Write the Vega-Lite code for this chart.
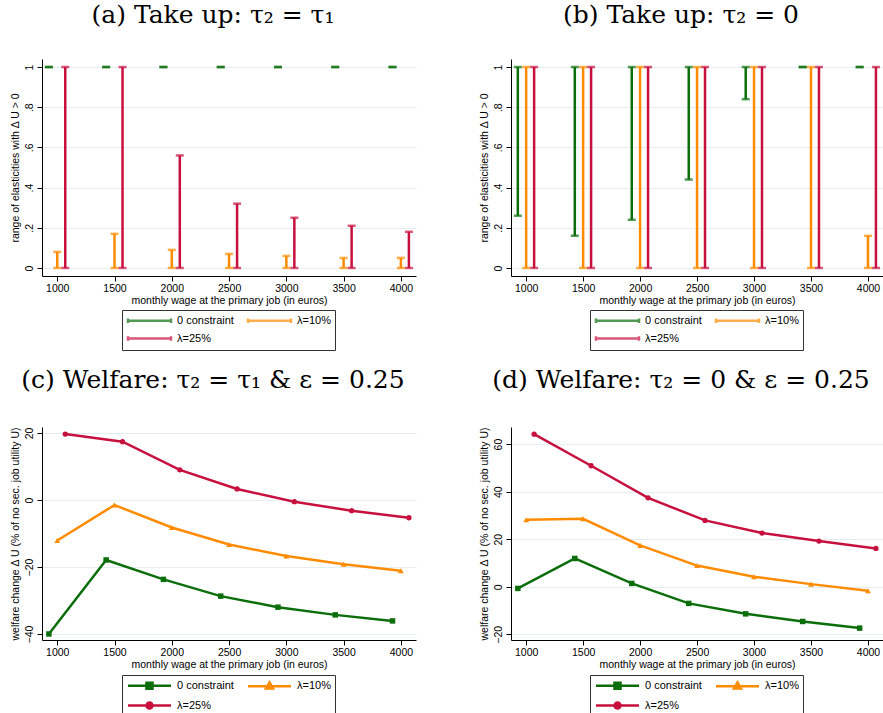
{
  "$schema": "https://vega.github.io/schema/vega-lite/v6.json",
  "padding": {"left": 10, "top": 3, "right": 0, "bottom": 0},
  "background": "white",
  "config": {
    "view": {"stroke": null},
    "font": "Liberation Sans",
    "axis": {"domainColor": "#000", "tickColor": "#000", "labelColor": "#000", "titleColor": "#000", "labelFontSize": 10.5, "titleFontSize": 10.5, "titleFontWeight": "normal", "tickSize": 5, "gridColor": "#e4edf0", "labelFont": "Liberation Sans", "titleFont": "Liberation Sans"},
    "legend": {"orient": "none", "direction": "horizontal", "columns": 2, "title": null, "strokeColor": "#333", "padding": 4, "labelFontSize": 11, "labelColor": "#000", "symbolSize": 100, "symbolStrokeWidth": 2.5, "symbolOffset": 17, "labelOffset": 21, "columnPadding": 9, "rowPadding": 3},
    "title": {"font": "DejaVu Serif", "fontSize": 25, "fontWeight": "normal", "color": "#000", "offset": 31, "anchor": "middle", "frame": "bounds"}
  },
  "datasets": {
    "rangeA": [
      {"series": "0 constraint", "wage": 927, "lo": 1, "hi": 1},
      {"series": "0 constraint", "wage": 1427, "lo": 1, "hi": 1},
      {"series": "0 constraint", "wage": 1927, "lo": 1, "hi": 1},
      {"series": "0 constraint", "wage": 2427, "lo": 1, "hi": 1},
      {"series": "0 constraint", "wage": 2927, "lo": 1, "hi": 1},
      {"series": "0 constraint", "wage": 3427, "lo": 1, "hi": 1},
      {"series": "0 constraint", "wage": 3927, "lo": 1, "hi": 1},
      {"series": "λ=10%", "wage": 1000, "lo": 0, "hi": 0.08},
      {"series": "λ=10%", "wage": 1500, "lo": 0, "hi": 0.17},
      {"series": "λ=10%", "wage": 2000, "lo": 0, "hi": 0.09},
      {"series": "λ=10%", "wage": 2500, "lo": 0, "hi": 0.07},
      {"series": "λ=10%", "wage": 3000, "lo": 0, "hi": 0.06},
      {"series": "λ=10%", "wage": 3500, "lo": 0, "hi": 0.05},
      {"series": "λ=10%", "wage": 4000, "lo": 0, "hi": 0.05},
      {"series": "λ=25%", "wage": 1070, "lo": 0, "hi": 1},
      {"series": "λ=25%", "wage": 1570, "lo": 0, "hi": 1},
      {"series": "λ=25%", "wage": 2070, "lo": 0, "hi": 0.56},
      {"series": "λ=25%", "wage": 2570, "lo": 0, "hi": 0.32},
      {"series": "λ=25%", "wage": 3070, "lo": 0, "hi": 0.25},
      {"series": "λ=25%", "wage": 3570, "lo": 0, "hi": 0.21},
      {"series": "λ=25%", "wage": 4070, "lo": 0, "hi": 0.18}
    ],
    "rangeB": [
      {"series": "0 constraint", "wage": 927, "lo": 0.26, "hi": 1},
      {"series": "0 constraint", "wage": 1427, "lo": 0.16, "hi": 1},
      {"series": "0 constraint", "wage": 1927, "lo": 0.24, "hi": 1},
      {"series": "0 constraint", "wage": 2427, "lo": 0.44, "hi": 1},
      {"series": "0 constraint", "wage": 2927, "lo": 0.84, "hi": 1},
      {"series": "0 constraint", "wage": 3427, "lo": 1, "hi": 1},
      {"series": "0 constraint", "wage": 3927, "lo": 1, "hi": 1},
      {"series": "λ=10%", "wage": 1000, "lo": 0, "hi": 1},
      {"series": "λ=10%", "wage": 1500, "lo": 0, "hi": 1},
      {"series": "λ=10%", "wage": 2000, "lo": 0, "hi": 1},
      {"series": "λ=10%", "wage": 2500, "lo": 0, "hi": 1},
      {"series": "λ=10%", "wage": 3000, "lo": 0, "hi": 1},
      {"series": "λ=10%", "wage": 3500, "lo": 0, "hi": 1},
      {"series": "λ=10%", "wage": 4000, "lo": 0, "hi": 0.16},
      {"series": "λ=25%", "wage": 1070, "lo": 0, "hi": 1},
      {"series": "λ=25%", "wage": 1570, "lo": 0, "hi": 1},
      {"series": "λ=25%", "wage": 2070, "lo": 0, "hi": 1},
      {"series": "λ=25%", "wage": 2570, "lo": 0, "hi": 1},
      {"series": "λ=25%", "wage": 3070, "lo": 0, "hi": 1},
      {"series": "λ=25%", "wage": 3570, "lo": 0, "hi": 1},
      {"series": "λ=25%", "wage": 4070, "lo": 0, "hi": 1}
    ],
    "welfC": [
      {"series": "0 constraint", "wage": 927, "value": -40.0},
      {"series": "0 constraint", "wage": 1427, "value": -17.9},
      {"series": "0 constraint", "wage": 1927, "value": -23.7},
      {"series": "0 constraint", "wage": 2427, "value": -28.7},
      {"series": "0 constraint", "wage": 2927, "value": -32.0},
      {"series": "0 constraint", "wage": 3427, "value": -34.3},
      {"series": "0 constraint", "wage": 3927, "value": -36.1},
      {"series": "λ=10%", "wage": 1000, "value": -12.1},
      {"series": "λ=10%", "wage": 1500, "value": -1.5},
      {"series": "λ=10%", "wage": 2000, "value": -8.2},
      {"series": "λ=10%", "wage": 2500, "value": -13.3},
      {"series": "λ=10%", "wage": 3000, "value": -16.7},
      {"series": "λ=10%", "wage": 3500, "value": -19.2},
      {"series": "λ=10%", "wage": 4000, "value": -21.1},
      {"series": "λ=25%", "wage": 1070, "value": 19.7},
      {"series": "λ=25%", "wage": 1570, "value": 17.4},
      {"series": "λ=25%", "wage": 2070, "value": 9.0},
      {"series": "λ=25%", "wage": 2570, "value": 3.3},
      {"series": "λ=25%", "wage": 3070, "value": -0.5},
      {"series": "λ=25%", "wage": 3570, "value": -3.2},
      {"series": "λ=25%", "wage": 4070, "value": -5.3}
    ],
    "welfD": [
      {"series": "0 constraint", "wage": 927, "value": -0.7},
      {"series": "0 constraint", "wage": 1427, "value": 11.9},
      {"series": "0 constraint", "wage": 1927, "value": 1.4},
      {"series": "0 constraint", "wage": 2427, "value": -7.0},
      {"series": "0 constraint", "wage": 2927, "value": -11.4},
      {"series": "0 constraint", "wage": 3427, "value": -14.6},
      {"series": "0 constraint", "wage": 3927, "value": -17.4},
      {"series": "λ=10%", "wage": 1000, "value": 28.2},
      {"series": "λ=10%", "wage": 1500, "value": 28.6},
      {"series": "λ=10%", "wage": 2000, "value": 17.4},
      {"series": "λ=10%", "wage": 2500, "value": 8.9},
      {"series": "λ=10%", "wage": 3000, "value": 4.2},
      {"series": "λ=10%", "wage": 3500, "value": 1.1},
      {"series": "λ=10%", "wage": 4000, "value": -1.7},
      {"series": "λ=25%", "wage": 1070, "value": 64.2},
      {"series": "λ=25%", "wage": 1570, "value": 50.9},
      {"series": "λ=25%", "wage": 2070, "value": 37.4},
      {"series": "λ=25%", "wage": 2570, "value": 27.9},
      {"series": "λ=25%", "wage": 3070, "value": 22.6},
      {"series": "λ=25%", "wage": 3570, "value": 19.2},
      {"series": "λ=25%", "wage": 4070, "value": 16.1}
    ]
  },
  "resolve": {"scale": {"color": "independent"}, "legend": {"color": "independent"}},
  "spacing": 16,
  "vconcat": [
    {
      "resolve": {"scale": {"color": "independent"}, "legend": {"color": "independent"}},
      "bounds": "flush",
      "spacing": 95,
      "hconcat": [
        {
          "title": {"text": "(a) Take up: τ₂ = τ₁"},
          "width": 374, "height": 217,
          "data": {"name": "rangeA"},
          "encoding": {
            "x": {"field": "wage", "type": "quantitative", "scale": {"domain": [867, 4132], "nice": false, "zero": false}, "axis": {"values": [1000, 1500, 2000, 2500, 3000, 3500, 4000], "format": "d", "grid": false, "title": "monthly wage at the primary job (in euros)", "labelPadding": 2, "titlePadding": 2}},
            "color": {"field": "series", "type": "nominal", "scale": {"domain": ["0 constraint", "λ=10%", "λ=25%"], "range": ["#0b6e0b", "#ff8b00", "#c8103f"]}, "legend": {"orient": "none", "legendX": 80, "legendY": 251, "strokeColor": "#333", "symbolType": "M-4.3,0H4.3M-4.3,-0.45V0.45M4.3,-0.45V0.45"}}
          },
          "layer": [
            {"mark": {"type": "rule", "strokeWidth": 2.5}, "encoding": {"y": {"field": "lo", "type": "quantitative", "title": "range of elasticities with Δ U > 0", "scale": {"domain": [-0.04, 1.04], "nice": false, "zero": false}, "axis": {"values": [0, 0.2, 0.4, 0.6, 0.8, 1], "labelExpr": "datum.value == 0 ? '0' : datum.value == 1 ? '1' : '.' + round(datum.value * 10)", "labelAngle": -90, "labelAlign": "center", "labelBaseline": "bottom", "labelPadding": 3, "titlePadding": 4}}, "y2": {"field": "hi"}}},
            {"mark": {"type": "tick", "orient": "horizontal", "size": 8, "thickness": 2.5}, "encoding": {"y": {"field": "lo", "type": "quantitative", "title": "range of elasticities with Δ U > 0"}}},
            {"mark": {"type": "tick", "orient": "horizontal", "size": 8, "thickness": 2.5}, "encoding": {"y": {"field": "hi", "type": "quantitative", "title": "range of elasticities with Δ U > 0"}}}
          ]
        },
        {
          "title": {"text": "(b) Take up: τ₂ = 0"},
          "width": 372, "height": 217,
          "data": {"name": "rangeB"},
          "encoding": {
            "x": {"field": "wage", "type": "quantitative", "scale": {"domain": [867, 4132], "nice": false, "zero": false}, "axis": {"values": [1000, 1500, 2000, 2500, 3000, 3500, 4000], "format": "d", "grid": false, "title": "monthly wage at the primary job (in euros)", "labelPadding": 2, "titlePadding": 2}},
            "color": {"field": "series", "type": "nominal", "scale": {"domain": ["0 constraint", "λ=10%", "λ=25%"], "range": ["#0b6e0b", "#ff8b00", "#c8103f"]}, "legend": {"orient": "none", "legendX": 79, "legendY": 251, "strokeColor": "#333", "symbolType": "M-4.3,0H4.3M-4.3,-0.45V0.45M4.3,-0.45V0.45"}}
          },
          "layer": [
            {"mark": {"type": "rule", "strokeWidth": 2.5}, "encoding": {"y": {"field": "lo", "type": "quantitative", "title": "range of elasticities with Δ U > 0", "scale": {"domain": [-0.04, 1.04], "nice": false, "zero": false}, "axis": {"values": [0, 0.2, 0.4, 0.6, 0.8, 1], "labelExpr": "datum.value == 0 ? '0' : datum.value == 1 ? '1' : '.' + round(datum.value * 10)", "labelAngle": -90, "labelAlign": "center", "labelBaseline": "bottom", "labelPadding": 3, "titlePadding": 4}}, "y2": {"field": "hi"}}},
            {"mark": {"type": "tick", "orient": "horizontal", "size": 8, "thickness": 2.5}, "encoding": {"y": {"field": "lo", "type": "quantitative", "title": "range of elasticities with Δ U > 0"}}},
            {"mark": {"type": "tick", "orient": "horizontal", "size": 8, "thickness": 2.5}, "encoding": {"y": {"field": "hi", "type": "quantitative", "title": "range of elasticities with Δ U > 0"}}}
          ]
        }
      ]
    },
    {
      "resolve": {"scale": {"color": "independent"}, "legend": {"color": "independent"}},
      "bounds": "flush",
      "spacing": 95,
      "hconcat": [
        {
          "title": {"text": "(c) Welfare: τ₂ = τ₁ & ε = 0.25", "offset": 34},
          "width": 374, "height": 213,
          "data": {"name": "welfC"},
          "encoding": {
            "x": {"field": "wage", "type": "quantitative", "scale": {"domain": [867, 4132], "nice": false, "zero": false}, "axis": {"values": [1000, 1500, 2000, 2500, 3000, 3500, 4000], "format": "d", "grid": false, "title": "monthly wage at the primary job (in euros)", "labelPadding": 2, "titlePadding": 2}},
            "y": {"field": "value", "type": "quantitative", "title": "welfare change Δ U (% of no sec. job utility U)", "scale": {"domain": [-41.8, 21.8], "nice": false, "zero": false}, "axis": {"values": [-40, -20, 0, 20], "labelAngle": -90, "labelAlign": "center", "labelBaseline": "bottom", "labelPadding": 3, "titlePadding": 4}}
          },
          "layer": [
            {"mark": {"type": "rule", "color": "#d0305a", "strokeWidth": 1}, "encoding": {"y": {"datum": 0}}},
            {"mark": {"type": "line", "strokeWidth": 2.5}, "encoding": {"color": {"field": "series", "type": "nominal", "scale": {"domain": ["0 constraint", "λ=10%", "λ=25%"], "range": ["#0b6e0b", "#ff8b00", "#c8103f"]}, "legend": {"orient": "none", "legendX": 80, "legendY": 248, "strokeColor": "#333", "symbolType": "M-4.3,0H4.3", "encoding": {"symbols": {"shape": {"value": {"expr": "datum.value == '0 constraint' ? 'M-4.3,0H4.3M-0.6,-0.6H0.6V0.6H-0.6Z' : datum.value == 'λ=10%' ? 'M-4.3,0H4.3M0,-0.75L0.7,0.45H-0.7Z' : 'M-4.3,0H4.3M-0.6,0A0.6,0.6,0,1,0,0.6,0A0.6,0.6,0,1,0,-0.6,0Z'"}}, "fill": {"value": {"expr": "datum.value == '0 constraint' ? '#0b6e0b' : datum.value == 'λ=10%' ? '#ff8b00' : '#c8103f'"}}, "fillOpacity": {"value": 1}}}}}}},
            {"transform": [{"filter": "datum.series == '0 constraint'"}], "mark": {"type": "point", "shape": "square", "filled": true, "size": 30, "opacity": 1, "color": "#0b6e0b"}},
            {"transform": [{"filter": "datum.series == 'λ=10%'"}], "mark": {"type": "point", "shape": "triangle-up", "filled": true, "size": 34, "opacity": 1, "color": "#ff8b00"}},
            {"transform": [{"filter": "datum.series == 'λ=25%'"}], "mark": {"type": "point", "shape": "circle", "filled": true, "size": 28, "opacity": 1, "color": "#c8103f"}}
          ]
        },
        {
          "title": {"text": "(d) Welfare: τ₂ = 0 & ε = 0.25", "offset": 34},
          "width": 372, "height": 213,
          "data": {"name": "welfD"},
          "encoding": {
            "x": {"field": "wage", "type": "quantitative", "scale": {"domain": [867, 4132], "nice": false, "zero": false}, "axis": {"values": [1000, 1500, 2000, 2500, 3000, 3500, 4000], "format": "d", "grid": false, "title": "monthly wage at the primary job (in euros)", "labelPadding": 2, "titlePadding": 2}},
            "y": {"field": "value", "type": "quantitative", "title": "welfare change Δ U (% of no sec. job utility U)", "scale": {"domain": [-22.4, 67.2], "nice": false, "zero": false}, "axis": {"values": [-20, 0, 20, 40, 60], "labelAngle": -90, "labelAlign": "center", "labelBaseline": "bottom", "labelPadding": 3, "titlePadding": 4}}
          },
          "layer": [
            {"mark": {"type": "rule", "color": "#d0305a", "strokeWidth": 1}, "encoding": {"y": {"datum": 0}}},
            {"mark": {"type": "line", "strokeWidth": 2.5}, "encoding": {"color": {"field": "series", "type": "nominal", "scale": {"domain": ["0 constraint", "λ=10%", "λ=25%"], "range": ["#0b6e0b", "#ff8b00", "#c8103f"]}, "legend": {"orient": "none", "legendX": 79, "legendY": 248, "strokeColor": "#333", "symbolType": "M-4.3,0H4.3", "encoding": {"symbols": {"shape": {"value": {"expr": "datum.value == '0 constraint' ? 'M-4.3,0H4.3M-0.6,-0.6H0.6V0.6H-0.6Z' : datum.value == 'λ=10%' ? 'M-4.3,0H4.3M0,-0.75L0.7,0.45H-0.7Z' : 'M-4.3,0H4.3M-0.6,0A0.6,0.6,0,1,0,0.6,0A0.6,0.6,0,1,0,-0.6,0Z'"}}, "fill": {"value": {"expr": "datum.value == '0 constraint' ? '#0b6e0b' : datum.value == 'λ=10%' ? '#ff8b00' : '#c8103f'"}}, "fillOpacity": {"value": 1}}}}}}},
            {"transform": [{"filter": "datum.series == '0 constraint'"}], "mark": {"type": "point", "shape": "square", "filled": true, "size": 30, "opacity": 1, "color": "#0b6e0b"}},
            {"transform": [{"filter": "datum.series == 'λ=10%'"}], "mark": {"type": "point", "shape": "triangle-up", "filled": true, "size": 34, "opacity": 1, "color": "#ff8b00"}},
            {"transform": [{"filter": "datum.series == 'λ=25%'"}], "mark": {"type": "point", "shape": "circle", "filled": true, "size": 28, "opacity": 1, "color": "#c8103f"}}
          ]
        }
      ]
    }
  ]
}
